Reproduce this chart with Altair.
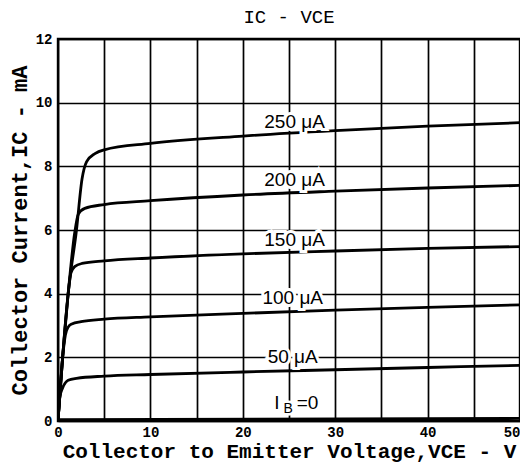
import altair as alt
import pandas as pd

# curve data (V_CE in volts, I_C in mA), one pair of arrays per base current
v_0 = [0, 50]
i_0 = [0.04, 0.08]
v_50 = [0, 0.2, 0.5, 0.8, 1.1, 2, 5, 10, 20, 30, 40, 50]
i_50 = [0, 0.75, 1.04, 1.2, 1.28, 1.34, 1.41, 1.46, 1.54, 1.61, 1.68, 1.75]
v_100 = [0, 0.5, 0.8, 1.1, 1.5, 2.5, 5, 10, 20, 30, 40, 50]
i_100 = [0, 2.0, 2.7, 2.95, 3.05, 3.12, 3.2, 3.27, 3.38, 3.48, 3.57, 3.65]
v_150 = [0, 0.5, 1.1, 1.4, 1.8, 2.6, 5, 10, 20, 30, 40, 50]
i_150 = [0, 2.0, 4.0, 4.65, 4.85, 4.95, 5.03, 5.12, 5.25, 5.34, 5.42, 5.48]
v_200 = [0, 0.5, 1.1, 1.8, 2.2, 2.9, 5, 10, 20, 30, 40, 50]
i_200 = [0, 2.0, 4.0, 5.9, 6.5, 6.68, 6.8, 6.92, 7.1, 7.22, 7.32, 7.4]
v_250 = [0, 0.5, 1.1, 2.0, 2.6, 3.1, 4, 5, 10, 20, 30, 40, 50]
i_250 = [0, 2.0, 4.0, 6.0, 7.6, 8.15, 8.4, 8.52, 8.72, 8.95, 9.12, 9.26, 9.37]

series_names = ["0", "50", "100", "150", "200", "250"]
series_v = [v_0, v_50, v_100, v_150, v_200, v_250]
series_i = [i_0, i_50, i_100, i_150, i_200, i_250]

# curve labels
label_text = ["250 μA", "200 μA", "150 μA", "100 μA", "50 μA"]
label_v = [25.6, 25.6, 25.6, 25.4, 25.4]
label_i = [9.4, 7.58, 5.7, 3.87, 2.0]
ib_text = ["I", "=0"]
ib_v = [23.7, 27.0]
ib_i = [0.57, 0.57]
sub_text = ["B"]
sub_v = [24.9]
sub_i = [0.57]

rows = []
for name, vs, cs in zip(series_names, series_v, series_i):
    for v, c in zip(vs, cs):
        rows.append({"series": name, "V": v, "I": c})
df = pd.DataFrame(rows)
labels = pd.DataFrame({"text": label_text, "V": label_v, "I": label_i})
ibs = pd.DataFrame({"text": ib_text, "V": ib_v, "I": ib_i})
subs = pd.DataFrame({"text": sub_text, "V": sub_v, "I": sub_i})

x_scale = alt.Scale(domain=[0, 50], nice=False)
y_scale = alt.Scale(domain=[0, 12], nice=False)

x_enc = alt.X(
    "V:Q",
    scale=x_scale,
    axis=alt.Axis(
        values=list(range(0, 51, 5)),
        labelExpr="datum.value % 10 == 0 ? datum.label : ''",
        labelAlign={"expr": "datum.value == 50 ? 'right' : 'center'"},
        title="Collector to Emitter Voltage,VCE - V",
    ),
)
y_enc = alt.Y(
    "I:Q",
    scale=y_scale,
    axis=alt.Axis(
        values=list(range(0, 13, 2)),
        title="Collector Current,IC - mA",
    ),
)

lines = alt.Chart(df).mark_line(
    color="black", strokeWidth=2.8, interpolate="monotone", clip=True
).encode(x=x_enc, y=y_enc, detail="series:N")


def text_pair(data, size, dy=0, halo_w=6):
    h = alt.Chart(data).mark_text(
        font="Liberation Sans", fontSize=size, dy=dy, stroke="white",
        strokeWidth=halo_w, color="white"
    ).encode(x="V:Q", y="I:Q", text="text:N")
    t = alt.Chart(data).mark_text(
        font="Liberation Sans", fontSize=size, dy=dy, color="black"
    ).encode(x="V:Q", y="I:Q", text="text:N")
    return [h, t]


layers = [lines]
layers += text_pair(labels, 19)
layers += text_pair(ibs, 19)
layers += text_pair(subs, 14, dy=6, halo_w=5)

chart = (
    alt.layer(*layers)
    .properties(
        width=462,
        height=382,
        padding={"left": 0, "top": 0, "right": 0, "bottom": 5},
        title=alt.TitleParams(
            "IC - VCE", font="Liberation Mono", fontSize=19, fontWeight="normal",
            color="black", offset=5,
        ),
    )
    .configure_view(stroke="black", strokeWidth=2.4)
    .configure_axis(
        grid=True,
        gridColor="black",
        gridWidth=1.7,
        gridOpacity=1,
        domain=False,
        ticks=False,
        labelFont="Liberation Mono",
        labelFontWeight="bold",
        labelFontSize=14,
        labelColor="black",
        titleFont="Liberation Mono",
        titleFontWeight="bold",
        titleColor="black",
    )
    .configure_axisX(labelPadding=4, titlePadding=1, titleFontSize=21)
    .configure_axisY(labelPadding=6, titlePadding=4, titleFontSize=22)
)

chart.save("out.html", embed_options={"renderer": "svg", "actions": False})
